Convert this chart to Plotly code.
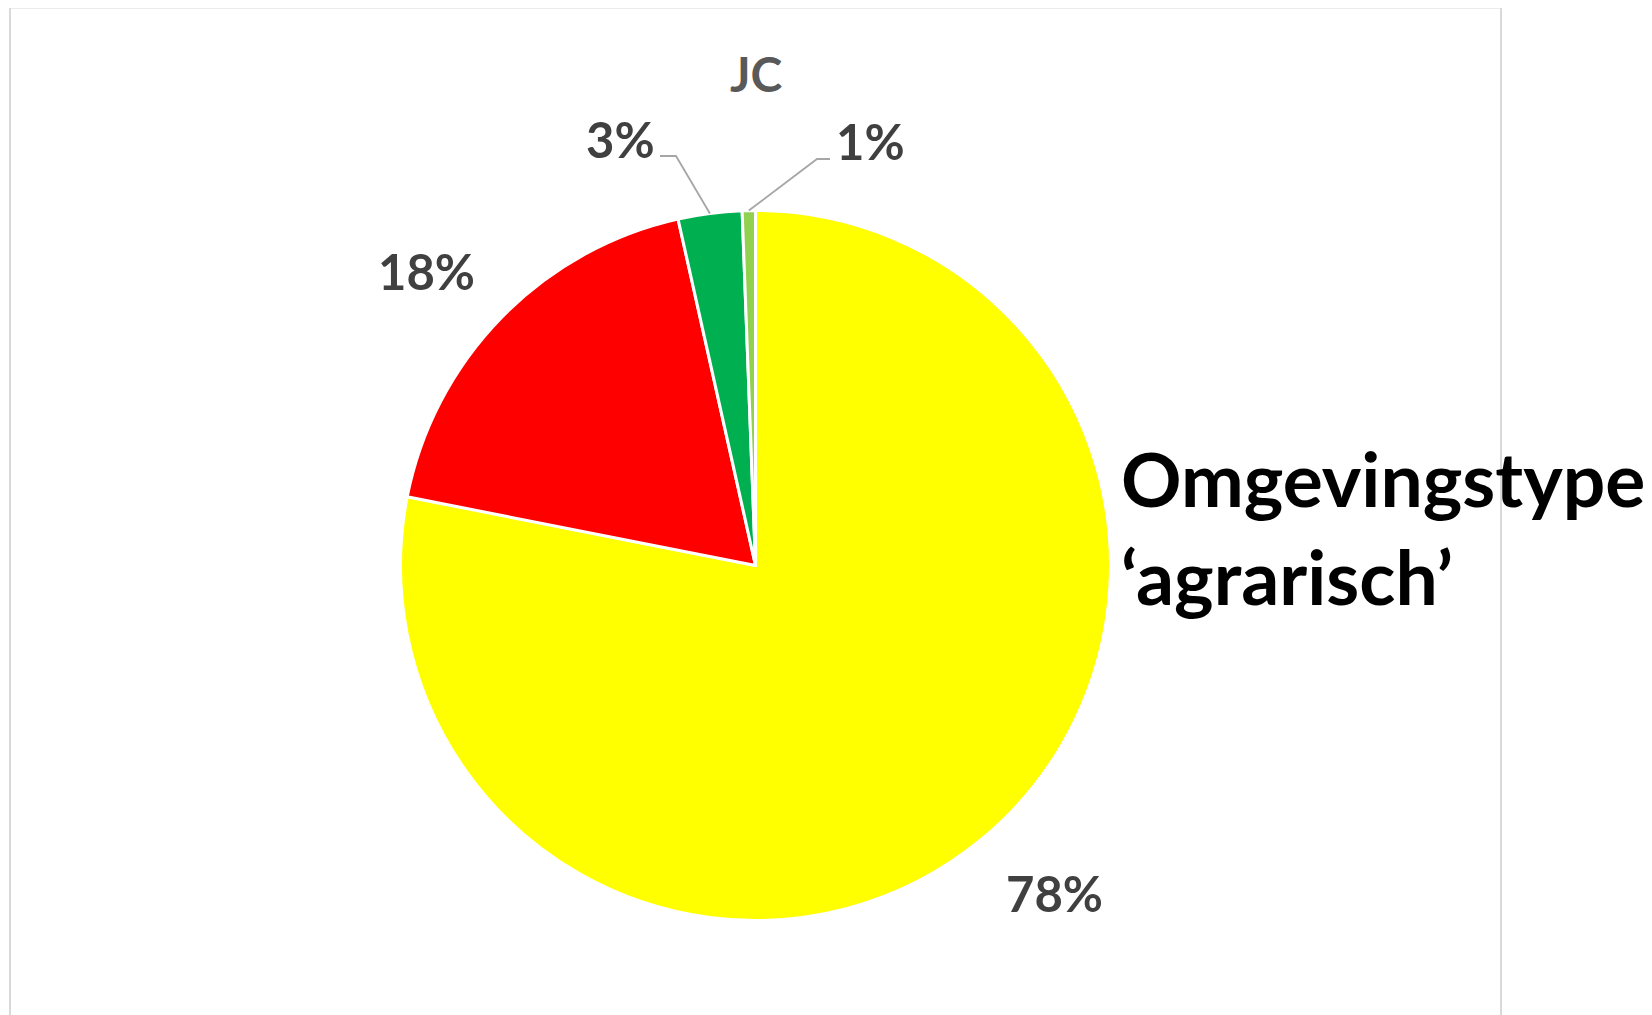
import math
import plotly.graph_objects as go

# ---- data ----
categories = ["Agrarisch", "Stedelijk", "Natuur", "Overig"]
values = [78.1, 18.4, 2.9, 0.6]
colors = ["#FFFF00", "#FF0000", "#00B050", "#92D050"]
title_text = "JC"
side_label = ["Omgevingstype", "\u2018agrarisch\u2019"]

W, H = 1652, 1015
OFF = 8  # page body margin compensation
CX, CY, R = 755.5, 565.5, 355  # pie centre / radius in px (page coordinates)


def px(x):
    return (x - OFF) / W


def py(y):
    return 1 - (y - OFF) / H


fig = go.Figure(go.Pie(
    labels=categories,
    values=values,
    sort=False,
    direction="clockwise",
    rotation=0,
    textinfo="none",
    hoverinfo="label+percent",
    marker=dict(colors=colors, line=dict(color="white", width=3)),
    domain=dict(x=[px(CX - R), px(CX + R)], y=[py(CY + R), py(CY - R)]),
    showlegend=False,
))

total = sum(values)
fracs = [v / total for v in values]
cum = 0
mids = []
for f in fracs:
    mids.append(cum + f / 2)
    cum += f
pct_text = [f"{round(f * 100):d}%" for f in fracs]

annotations = []
shapes = []
label_font = dict(family="Lato", size=49, color="#404040")


def edge_point(mid, rr):
    ang = mid * 2 * math.pi
    return CX + rr * math.sin(ang), CY - rr * math.cos(ang)


label_pos = [(1054, 893), (427, 271), (620, 139), (870, 141)]
for i, (lx, ly) in enumerate(label_pos):
    annotations.append(dict(x=px(lx), y=py(ly), xref="paper", yref="paper",
                            text=f"<b>{pct_text[i]}</b>", showarrow=False,
                            font=label_font, xanchor="center", yanchor="middle"))

# leader lines for the small slices
leaders = {2: [(660, 156), (676, 156)], 3: [(830, 159), (817, 159)]}
for i, pts in leaders.items():
    ex, ey = edge_point(mids[i], R)
    path = (f"M {px(pts[0][0])} {py(pts[0][1])} L {px(pts[1][0])} {py(pts[1][1])} "
            f"L {px(ex)} {py(ey)}")
    shapes.append(dict(type="path", xref="paper", yref="paper", path=path,
                       line=dict(color="#A6A6A6", width=1.8)))

# title
annotations.append(dict(x=px(756), y=py(74), xref="paper", yref="paper",
                        text=f"<b>{title_text}</b>", showarrow=False,
                        font=dict(family="Lato", size=48, color="#595959"),
                        xanchor="center", yanchor="middle"))

# side label
annotations.append(dict(x=px(1119), y=py(527), xref="paper", yref="paper",
                        text="<b>" + "<br>".join(side_label) + "</b>", showarrow=False,
                        align="left",
                        font=dict(family="Lato", size=75, color="#000000"),
                        xanchor="left", yanchor="middle"))

# chart frame
shapes.append(dict(type="rect", xref="paper", yref="paper",
                   x0=px(10), x1=px(1501), y0=-0.02, y1=py(7.5),
                   line=dict(color="#D9D9D9", width=2), layer="below"))

fig.update_layout(
    width=W, height=H,
    margin=dict(l=0, r=0, t=0, b=0),
    paper_bgcolor="white",
    plot_bgcolor="white",
    annotations=annotations,
    shapes=shapes,
)

fig.write_html("out.html")
